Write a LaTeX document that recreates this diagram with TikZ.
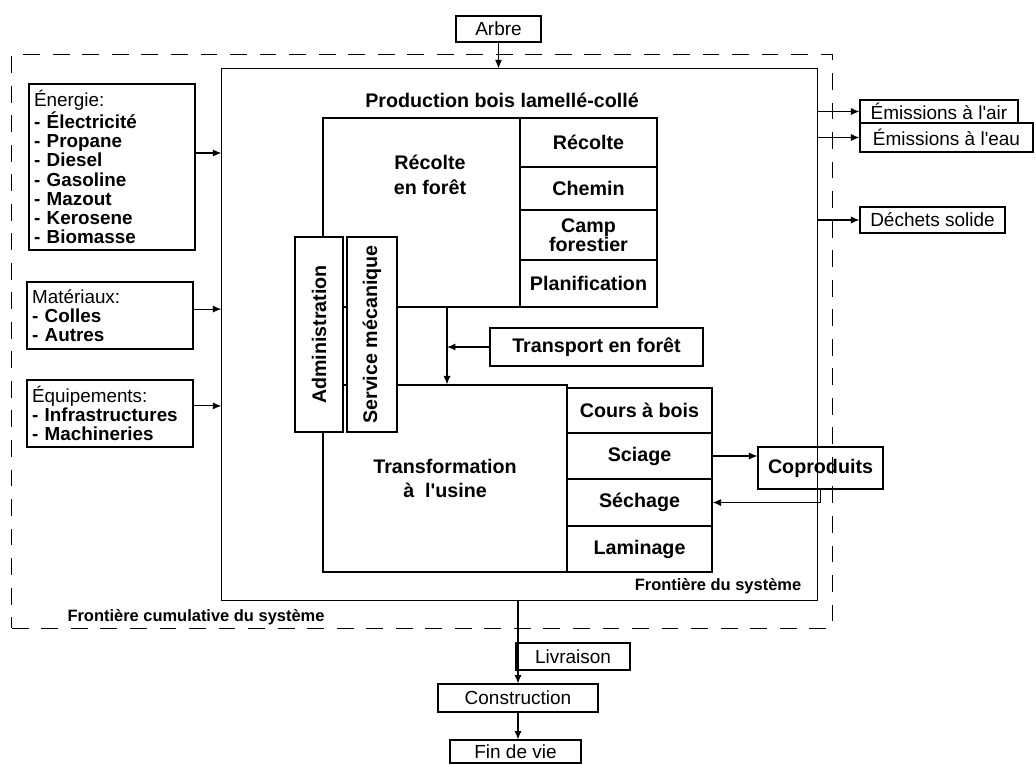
\documentclass[tikz,border=0pt]{standalone}
\usepackage{fontspec}
\setmainfont{Liberation Sans}
\usepackage{tikz}
\usetikzlibrary{arrows.meta}

\begin{document}
\begin{tikzpicture}[x=0.025cm,y=-0.025cm,>={Latex[length=6pt,width=5pt]},line width=0.8pt,
  boite/.style={rectangle,draw,inner sep=0pt,align=center,font=\fontsize{14}{16}\selectfont\bfseries},
  boiteext/.style={rectangle,draw,inner sep=0pt,font=\fontsize{13.5}{16}\selectfont},
  liste/.style={rectangle,draw,inner xsep=0.13cm,inner ysep=0pt,text width=3.89cm,align=left,font=\fontsize{13.4}{13.7}\selectfont},
  titre/.style={align=center,font=\fontsize{14}{17.7}\selectfont\bfseries},
  etiquette/.style={font=\fontsize{11.7}{13}\selectfont\bfseries},
  frontiere/.style={rectangle,draw,dash pattern=on 12pt off 9pt,inner sep=0pt}]
\useasboundingbox (0,0) rectangle (1036,764);
\node at (422,341.5) [frontiere,minimum width=20.5cm,minimum height=14.325cm] (cumul) {};
\node at (519.5,334.5) [rectangle,draw,minimum width=14.875cm,minimum height=13.275cm] (sys) {};
\node at (502,100) [titre] (prod) {Production bois lamellé-collé};
\node at (718,586) [etiquette] (frontsys) {Frontière du système};
\node at (196,617) [etiquette] (frontcumul) {Frontière cumulative du système};

\node at (498.5,29) [boiteext,minimum width=2.125cm,minimum height=0.65cm] (arbre) {Arbre};

\node at (112,167) [liste,minimum height=4.15cm] (energie) {Énergie:\\\bfseries - Électricité\\- Propane\\- Diesel\\- Gasoline\\- Mazout\\- Kerosene\\- Biomasse};
\node at (110,315.5) [liste,minimum height=1.675cm] (materiaux) {Matériaux:\\\bfseries - Colles\\- Autres};
\node at (110,413.5) [liste,minimum height=1.675cm] (equipements) {Équipements:\\\bfseries - Infrastructures\\- Machineries};

\node at (421.5,212.5) [rectangle,draw,minimum width=4.925cm,minimum height=4.725cm] (recolte) {};
\node at (430,175) [titre] (recoltetxt) {Récolte\\en forêt};
\node at (588.5,142.5) [boite,minimum width=3.425cm,minimum height=1.225cm] (srecolte) {Récolte};
\node at (588.5,188.5) [boite,minimum width=3.425cm,minimum height=1.075cm] (chemin) {Chemin};
\node at (588.5,235) [boite,minimum width=3.425cm,minimum height=1.25cm,font=\fontsize{14}{13.5}\selectfont\bfseries] (camp) {Camp\\forestier};
\node at (588.5,283.5) [boite,minimum width=3.425cm,minimum height=1.175cm] (planif) {Planification};

\node at (445,478.5) [boite,minimum width=6.1cm,minimum height=4.675cm,font=\fontsize{14}{17.7}\selectfont\bfseries] (transfo) {Transformation\\à\ \ l\textquotesingle usine};
\node at (639.5,410.5) [boite,minimum width=3.625cm,minimum height=1.125cm] (cours) {Cours à bois};
\node at (639.5,456) [boite,minimum width=3.625cm,minimum height=1.15cm] (sciage) {Sciage};
\node at (639.5,502.5) [boite,minimum width=3.625cm,minimum height=1.175cm] (sechage) {Séchage};
\node at (639.5,549) [boite,minimum width=3.625cm,minimum height=1.15cm] (laminage) {Laminage};

\node at (319,334.5) [boite,rotate=90,fill=white,minimum width=4.875cm,minimum height=1.2cm] (admin) {Administration};
\node at (372,334.5) [boite,rotate=90,fill=white,minimum width=4.875cm,minimum height=1.25cm] (service) {Service mécanique};

\node at (596.5,347) [boite,minimum width=5.325cm,minimum height=0.95cm] (transport) {Transport en forêt};
\node at (820.5,468) [boite,minimum width=3.125cm,minimum height=1.05cm] (copro) {Coproduits};

\node at (939,111.5) [boiteext,minimum width=3.95cm,minimum height=0.575cm] (emair) {Émissions à l\textquotesingle air};
\node at (946.5,137.5) [boiteext,minimum width=4.325cm,minimum height=0.725cm] (emeau) {Émissions à l\textquotesingle eau};
\node at (932.5,220) [boiteext,minimum width=3.625cm,minimum height=0.65cm] (dechets) {Déchets solide};

\node at (573,656.5) [boiteext,minimum width=2.85cm,minimum height=0.675cm] (livraison) {Livraison};
\node at (518,698) [boiteext,minimum width=4cm,minimum height=0.7cm] (construction) {Construction};
\node at (515.5,751.5) [boiteext,minimum width=3.275cm,minimum height=0.575cm] (finvie) {Fin de vie};

\coordinate (axe) at (447,0);
\path ([yshift=0.35cm]energie.east) coordinate (energieout);
\path ([yshift=0.16cm]materiaux.east) coordinate (materiauxout);
\path ([yshift=0.19cm]equipements.east) coordinate (equipementsout);

\draw[->] (arbre) -- (arbre |- sys.north);
\draw[->] (energieout) -- (energieout -| sys.west);
\draw[->] (materiauxout) -- (materiauxout -| sys.west);
\draw[->] (equipementsout) -- (equipementsout -| sys.west);
\draw[->] (axe |- recolte.south) -- (axe |- transfo.north);
\draw[->] (transport) -- (axe |- transport);
\draw[->] (sciage) -- (copro.west |- sciage);
\draw[->] (copro.south) |- (sechage.east);
\draw[->] (sys.east |- emair) -- (emair);
\draw[->] (sys.east |- emeau) -- (emeau);
\draw[->] (sys.east |- dechets) -- (dechets);
\draw[->] (construction.north |- sys.south) -- (construction);
\draw[->] (construction) -- (construction |- finvie.north);
\end{tikzpicture}
\end{document}
